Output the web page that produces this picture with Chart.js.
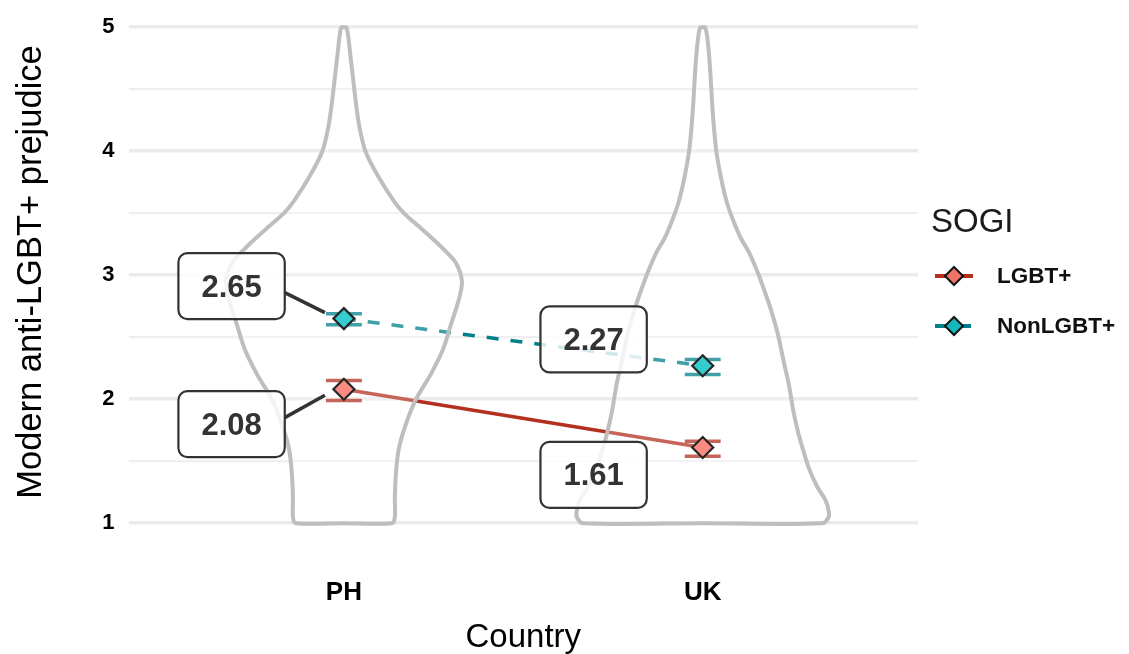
<!DOCTYPE html>
<html>
<head>
<meta charset="utf-8">
<script src="https://cdn.jsdelivr.net/npm/chart.js@4.4.1/dist/chart.umd.min.js"></script>
<style>
  html, body { margin: 0; padding: 0; background: #fff; }
  #wrap { width: 1129px; height: 654px; }
</style>
</head>
<body>
<div id="wrap"><canvas id="chart" width="1129" height="654"></canvas></div>
<script>
const countries = ['PH', 'UK'];
const groups = ['LGBT+', 'NonLGBT+'];

const lgbtMeans = [2.08, 1.61];
const lgbtLow = [1.99, 1.54];
const lgbtHigh = [2.15, 1.66];

const nonMeans = [2.65, 2.27];
const nonLow = [2.60, 2.20];
const nonHigh = [2.69, 2.32];

const yTicks = [1, 1.5, 2, 2.5, 3, 3.5, 4, 4.5, 5];

// violin outlines: response values and half widths (in category units)
const phViolinY = [1.0, 1.05, 1.2, 1.4, 1.6, 1.8, 2.0, 2.2, 2.4, 2.6, 2.8, 2.95, 3.1, 3.2, 3.3, 3.4, 3.5, 3.6, 3.8, 4.0, 4.2, 4.4, 4.6, 4.8, 4.95, 5.0];
const phViolinW = [0.134, 0.142, 0.142, 0.145, 0.153, 0.173, 0.201, 0.242, 0.276, 0.298, 0.320, 0.329, 0.312, 0.281, 0.245, 0.206, 0.167, 0.139, 0.095, 0.060, 0.043, 0.033, 0.025, 0.017, 0.011, 0.006];
const ukViolinY = [1.0, 1.05, 1.1, 1.18, 1.3, 1.45, 1.6, 1.72, 1.9, 2.12, 2.3, 2.53, 2.75, 2.98, 3.1, 3.19, 3.3, 3.45, 3.59, 3.8, 4.0, 4.2, 4.4, 4.6, 4.8, 4.95, 5.0];
const ukViolinW = [0.334, 0.351, 0.351, 0.343, 0.318, 0.295, 0.279, 0.267, 0.253, 0.240, 0.226, 0.209, 0.187, 0.159, 0.142, 0.128, 0.106, 0.084, 0.067, 0.050, 0.038, 0.031, 0.026, 0.022, 0.017, 0.011, 0.006];

const FONT = "'Liberation Sans', Arial, sans-serif";
const RED = '#B3301F', TEAL = '#00808A';

// label placement, relative to each mean (x units, y units)
const lgbtLabelShift = [[-0.313, -0.281], [-0.304, -0.22]];
const nonLabelShift = [[-0.313, 0.262], [-0.304, 0.212]];
const labelLink = [true, false];

function violinPoints(center, ys, ws) {
  const pts = [{ x: center, y: ys[0] }];
  for (let i = 0; i < ys.length; i++) pts.push({ x: center - ws[i], y: ys[i] });
  for (let i = ys.length - 1; i >= 0; i--) pts.push({ x: center + ws[i], y: ys[i] });
  pts.push({ x: center, y: ys[0] });
  return pts;
}
const meanPoints = (vals) => vals.map((v, i) => ({ x: i + 1, y: v }));

const series = [
  { means: lgbtMeans, low: lgbtLow, high: lgbtHigh, color: RED, shift: lgbtLabelShift },
  { means: nonMeans, low: nonLow, high: nonHigh, color: TEAL, shift: nonLabelShift }
];

const errorBars = {
  id: 'errorBars',
  beforeDatasetsDraw(chart) {
    const { ctx, scales: { x, y } } = chart;
    ctx.save();
    ctx.lineWidth = 3.5;
    series.forEach(s => {
      ctx.strokeStyle = s.color;
      s.means.forEach((m, i) => {
        const l = x.getPixelForValue(i + 1 - 0.05), r = x.getPixelForValue(i + 1 + 0.05);
        const c = x.getPixelForValue(i + 1);
        const lo = y.getPixelForValue(s.low[i]), hi = y.getPixelForValue(s.high[i]);
        ctx.beginPath();
        ctx.moveTo(l, lo); ctx.lineTo(r, lo);
        ctx.moveTo(l, hi); ctx.lineTo(r, hi);
        ctx.moveTo(c, lo); ctx.lineTo(c, hi);
        ctx.stroke();
      });
    });
    ctx.restore();
  }
};

function roundRect(ctx, x, y, w, h, r) {
  ctx.beginPath();
  ctx.moveTo(x + r, y);
  ctx.arcTo(x + w, y, x + w, y + h, r);
  ctx.arcTo(x + w, y + h, x, y + h, r);
  ctx.arcTo(x, y + h, x, y, r);
  ctx.arcTo(x, y, x + w, y, r);
  ctx.closePath();
}

const meanLabels = {
  id: 'meanLabels',
  afterDatasetsDraw(chart) {
    const { ctx, scales: { x, y } } = chart;
    ctx.save();
    ctx.font = 'bold 31px ' + FONT;
    ctx.textAlign = 'center';
    ctx.textBaseline = 'middle';
    series.forEach(s => {
      s.means.forEach((m, i) => {
        const px = x.getPixelForValue(i + 1), py = y.getPixelForValue(m);
        const cx = x.getPixelForValue(i + 1 + s.shift[i][0]);
        const cy = y.getPixelForValue(m + s.shift[i][1]);
        const txt = m.toFixed(2);
        const w = ctx.measureText(txt).width + 46, h = 66;
        if (labelLink[i]) {
          const sg = Math.sign(py - cy);
          ctx.strokeStyle = '#333';
          ctx.lineWidth = 3.5;
          ctx.beginPath();
          ctx.moveTo(cx + w / 2, cy + sg * 6.5);
          ctx.lineTo(px - 19, py - sg * 6);
          ctx.stroke();
        }
        roundRect(ctx, cx - w / 2, cy - h / 2, w, h, 9);
        ctx.fillStyle = 'rgba(255,255,255,0.82)';
        ctx.fill();
        ctx.strokeStyle = '#333';
        ctx.lineWidth = 2.2;
        ctx.stroke();
        ctx.fillStyle = '#333';
        ctx.fillText(txt, cx, cy + 2);
      });
    });
    ctx.restore();
  }
};

const sideLegend = {
  id: 'sideLegend',
  afterDraw(chart) {
    const { ctx } = chart;
    ctx.save();
    // y axis title
    ctx.save();
    ctx.translate(31, 272);
    ctx.rotate(-Math.PI / 2);
    ctx.fillStyle = '#000';
    ctx.font = '34.5px ' + FONT;
    ctx.textAlign = 'center';
    ctx.textBaseline = 'middle';
    ctx.fillText('Modern anti-LGBT+ prejudice', 0, 0);
    ctx.restore();

    ctx.fillStyle = '#1a1a1a';
    ctx.font = '33px ' + FONT;
    ctx.textBaseline = 'alphabetic';
    ctx.fillText('SOGI', 931, 232);
    const fills = ['#F07468', '#14B8BC'];
    groups.forEach((g, i) => {
      const yy = 276 + i * 50;
      ctx.strokeStyle = series[i].color;
      ctx.lineWidth = 4;
      ctx.setLineDash(i === 1 ? [12, 12] : []);
      ctx.beginPath();
      ctx.moveTo(935, yy); ctx.lineTo(973, yy);
      ctx.stroke();
      ctx.setLineDash([]);
      ctx.beginPath();
      ctx.moveTo(954, yy - 9); ctx.lineTo(963, yy); ctx.lineTo(954, yy + 9); ctx.lineTo(945, yy);
      ctx.closePath();
      ctx.fillStyle = fills[i];
      ctx.fill();
      ctx.strokeStyle = '#111';
      ctx.lineWidth = 2;
      ctx.stroke();
      ctx.fillStyle = '#111';
      ctx.font = 'bold 22.5px ' + FONT;
      ctx.textBaseline = 'middle';
      ctx.fillText(g, 997, yy + 1);
    });
    ctx.restore();
  }
};

const violinStyle = {
  type: 'line', borderColor: '#BEBEBE', borderWidth: 4, pointRadius: 0, tension: 0.3, clip: false,
  fill: 'shape', backgroundColor: 'rgba(255,255,255,0.25)', order: 1
};

new Chart(document.getElementById('chart'), {
  type: 'line',
  data: {
    datasets: [
      { ...violinStyle, label: 'PH violin', data: violinPoints(1, phViolinY, phViolinW) },
      { ...violinStyle, label: 'UK violin', data: violinPoints(2, ukViolinY, ukViolinW) },
      { label: groups[0], data: meanPoints(lgbtMeans), borderColor: RED, borderWidth: 3.5, pointRadius: 0, fill: false, order: 2 },
      { label: groups[1], data: meanPoints(nonMeans), borderColor: TEAL, borderWidth: 3.5, borderDash: [12, 12], pointRadius: 0, fill: false, order: 2 },
      { label: groups[0] + ' mean', data: meanPoints(lgbtMeans), showLine: false, pointStyle: 'rectRot', pointRadius: 10.5,
        pointBackgroundColor: '#F98B82', pointBorderColor: '#262626', pointBorderWidth: 2.2, order: 0 },
      { label: groups[1] + ' mean', data: meanPoints(nonMeans), showLine: false, pointStyle: 'rectRot', pointRadius: 10.5,
        pointBackgroundColor: '#33CCCF', pointBorderColor: '#262626', pointBorderWidth: 2.2, order: 0 }
    ]
  },
  options: {
    responsive: false,
    animation: false,
    devicePixelRatio: 1,
    layout: { padding: { left: 0, right: 211, top: 0, bottom: 0 } },
    plugins: { legend: { display: false }, tooltip: { enabled: false } },
    scales: {
      x: {
        type: 'linear', min: 0.4, max: 2.6,
        afterBuildTicks: s => { s.ticks = countries.map((c, i) => ({ value: i + 1 })); },
        afterFit: s => { s.height = 106; },
        grid: { display: false, drawTicks: false },
        border: { display: false },
        ticks: {
          autoSkip: false, padding: 29, color: '#000',
          font: { family: FONT, size: 26, weight: 'bold' },
          callback: v => countries[v - 1]
        },
        title: {
          display: true, text: 'Country', color: '#000', padding: { top: 0, bottom: 0 },
          font: { family: FONT, size: 33, lineHeight: 1 }
        }
      },
      y: {
        type: 'linear', min: 0.8, max: 5.0,
        afterBuildTicks: s => { s.ticks = yTicks.map(v => ({ value: v })); },
        afterFit: s => { s.width = 128.6; },
        grid: {
          drawTicks: false,
          color: c => (c.tick && c.tick.value % 1 === 0) ? '#EBEBEB' : '#EFEFEF',
          lineWidth: c => (c.tick && c.tick.value % 1 === 0) ? 3.5 : 2.2
        },
        border: { display: false },
        ticks: {
          autoSkip: false, padding: 14, color: '#000',
          font: { family: FONT, size: 22, weight: 'bold' },
          callback: v => (v % 1 === 0 ? String(v) : '')
        }
      }
    }
  },
  plugins: [errorBars, meanLabels, sideLegend]
});
</script>
</body>
</html>
